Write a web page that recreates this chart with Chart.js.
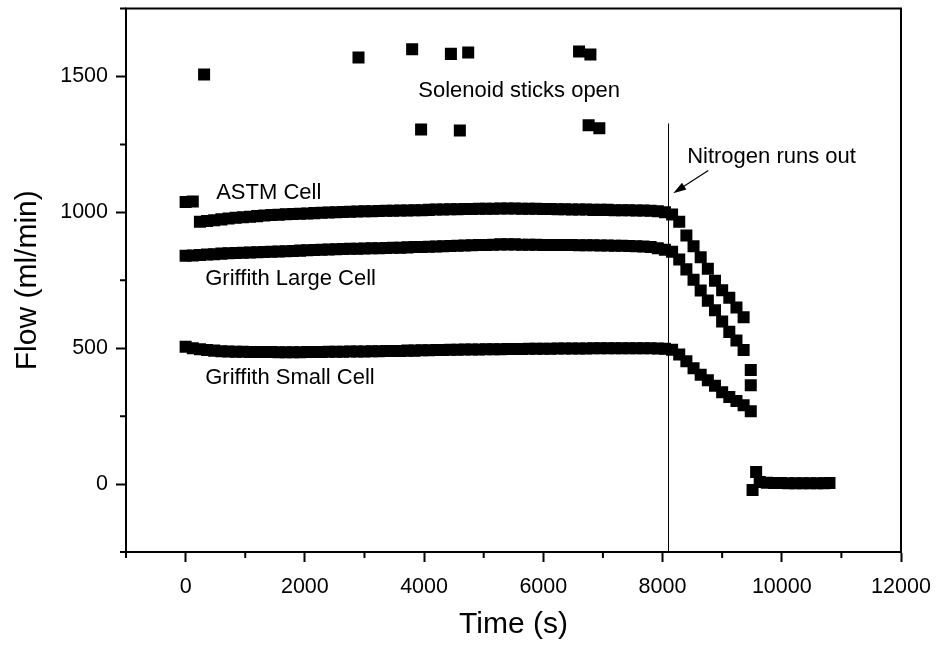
<!DOCTYPE html>
<html>
<head>
<meta charset="utf-8">
<script src="https://cdn.jsdelivr.net/npm/chart.js@4/dist/chart.umd.min.js"></script>
<style>
html,body{margin:0;padding:0;background:#fff;}
#c{display:block;}
</style>
</head>
<body>
<canvas id="c" width="937" height="646"></canvas>
<script>
// ---------------- data ----------------
const times = [0,120,240,360,480,600,720,840,960,1080,1200,1320,1440,1560,1680,1800,1920,2040,2160,2280,2400,2520,2640,2760,2880,3000,3120,3240,3360,3480,3600,3720,3840,3960,4080,4200,4320,4440,4560,4680,4800,4920,5040,5160,5280,5400,5520,5640,5760,5880,6000,6120,6240,6360,6480,6600,6720,6840,6960,7080,7200,7320,7440,7560,7680,7800,7920,8040,8160,8280,8400,8520,8640,8760,8880,9000,9120,9240,9360,9480];

const astmFlow = [1038,1040,
  965,968,971,974,977,980,982,984,986,988,
  990,991,993,994,995,996,997,998,999,1000,
  1001,1002,1003,1004,1004,1005,1006,1006,1007,1007,
  1008,1008,1009,1010,1010,1011,1011,1012,1012,1013,
  1013,1013,1014,1014,1014,1013,1013,1013,1012,1012,
  1011,1011,1010,1010,1010,1009,1009,1009,1008,1008,
  1008,1007,1007,1006,1004,1000,
  992,965,915,875,835,792,748,713,686,650,614,420];

const largeFlow = [840,841,843,845,846,848,849,850,851,852,
  853,854,855,856,857,858,859,860,861,862,
  863,864,865,866,866,867,868,868,869,870,
  870,871,872,872,873,874,875,876,877,878,
  879,880,880,881,882,882,882,881,881,881,
  880,880,880,880,880,879,879,879,878,878,
  877,877,876,875,874,872,868,862,
  855,826,790,752,712,675,640,598,560,528,493,364];

const smallFlow = [505,500,496,493,491,489,488,487,487,486,
  486,486,486,485,485,485,485,486,486,486,
  487,487,487,488,488,488,489,489,490,490,
  490,491,491,492,492,493,493,494,494,495,
  495,495,496,496,496,497,497,497,498,498,
  498,498,499,499,499,499,499,500,500,500,
  500,500,500,500,500,500,499,498,
  494,477,452,426,402,382,362,338,320,306,290,268];

const tailTime = [9510,9570,9630,9750,9870,9990,10110,10230,10350,10470,10590,10710,10800];
const tailFlow = [-22,44,8,5,4,4,3,3,3,3,3,3,4];

const solenoidTime = [310,2900,3800,3950,4450,4600,4740,6600,6760,6790,6940];
const solenoidFlow = [1507,1570,1600,1305,1583,1301,1588,1592,1320,1581,1309];

const xTickValues = [0,2000,4000,6000,8000,10000,12000];
const xMinorValues = [-1000,1000,3000,5000,7000,9000,11000];
const yTickValues = [0,500,1000,1500];
const yMinorValues = [-250,250,750,1250,1750];

const nitrogenTime = 8090;

// annotation texts (positions in data coordinates, kept separate)
const notes = [
  {text:'ASTM Cell', x:513, y:1048},
  {text:'Griffith Large Cell', x:329, y:732},
  {text:'Griffith Small Cell', x:329, y:368},
  {text:'Solenoid sticks open', x:3903, y:1423},
  {text:'Nitrogen runs out', x:8413, y:1180}
];
const arrowFrom = {x:8768, y:1154};
const arrowTo = {x:8180, y:1070};
const lineTopFlow = 1327;

// ---------------- chart ----------------
const FONT = "'Liberation Sans', Arial, Helvetica, sans-serif";
Chart.defaults.color = '#000';
Chart.defaults.font.family = FONT;

function pts(xs, ys){ return xs.map((x,i)=>({x:x, y:ys[i]})); }

const marker = {
  showLine:false, pointStyle:'rect', pointRadius:8.5, pointHoverRadius:8.5,
  backgroundColor:'#000', borderColor:'#000', borderWidth:0
};

const overlay = {
  id:'overlay',
  beforeDatasetsDraw(chart){
    const {ctx, scales:{x,y}, chartArea:a} = chart;
    ctx.save();
    ctx.strokeStyle = '#000';
    ctx.lineWidth = 1;
    const px = Math.round(x.getPixelForValue(nitrogenTime)) + 0.5;
    ctx.beginPath();
    ctx.moveTo(px, a.bottom);
    ctx.lineTo(px, y.getPixelForValue(lineTopFlow));
    ctx.stroke();
    ctx.restore();
  },
  afterDraw(chart){
    const {ctx, scales:{x,y}, chartArea:a} = chart;
    ctx.save();
    // frame
    ctx.strokeStyle = '#000';
    ctx.lineWidth = 2;
    ctx.strokeRect(a.left, a.top, a.right - a.left, a.bottom - a.top);
    // minor ticks
    ctx.lineWidth = 2;
    ctx.beginPath();
    xMinorValues.forEach(v=>{
      const p = x.getPixelForValue(v);
      ctx.moveTo(p, a.bottom); ctx.lineTo(p, a.bottom + 6);
    });
    yMinorValues.forEach(v=>{
      const p = y.getPixelForValue(v);
      ctx.moveTo(a.left, p); ctx.lineTo(a.left - 6, p);
    });
    ctx.stroke();
    // texts
    ctx.fillStyle = '#000';
    ctx.font = '22px ' + FONT;
    ctx.textAlign = 'left';
    ctx.textBaseline = 'alphabetic';
    notes.forEach(n=>{
      ctx.fillText(n.text, x.getPixelForValue(n.x), y.getPixelForValue(n.y));
    });
    // arrow
    const x1 = x.getPixelForValue(arrowFrom.x), y1 = y.getPixelForValue(arrowFrom.y);
    const x2 = x.getPixelForValue(arrowTo.x), y2 = y.getPixelForValue(arrowTo.y);
    const ang = Math.atan2(y2 - y1, x2 - x1);
    const hl = 13, hw = 4;
    ctx.lineWidth = 1.2;
    ctx.beginPath();
    ctx.moveTo(x1, y1);
    ctx.lineTo(x2 - Math.cos(ang)*hl*0.8, y2 - Math.sin(ang)*hl*0.8);
    ctx.stroke();
    ctx.beginPath();
    ctx.moveTo(x2, y2);
    ctx.lineTo(x2 - Math.cos(ang)*hl - Math.sin(ang)*hw, y2 - Math.sin(ang)*hl + Math.cos(ang)*hw);
    ctx.lineTo(x2 - Math.cos(ang)*hl + Math.sin(ang)*hw, y2 - Math.sin(ang)*hl - Math.cos(ang)*hw);
    ctx.closePath();
    ctx.fill();
    ctx.restore();
  }
};

new Chart(document.getElementById('c'), {
  type:'scatter',
  data:{
    datasets:[
      Object.assign({label:'ASTM Cell', data:pts(times, astmFlow)}, marker),
      Object.assign({label:'Griffith Large Cell', data:pts(times, largeFlow)}, marker),
      Object.assign({label:'Griffith Small Cell', data:pts(times, smallFlow)}, marker),
      Object.assign({label:'After nitrogen runs out', data:pts(tailTime, tailFlow)}, marker),
      Object.assign({label:'Solenoid sticks open', data:pts(solenoidTime, solenoidFlow)}, marker)
    ]
  },
  options:{
    responsive:false,
    animation:false,
    devicePixelRatio:1,
    events:[],
    layout:{padding:{left:0, top:8, right:36, bottom:0}},
    plugins:{legend:{display:false}, tooltip:{enabled:false}},
    scales:{
      x:{
        type:'linear', min:-1000, max:12000,
        afterBuildTicks(s){ s.ticks = xTickValues.map(v=>({value:v})); },
        afterFit(s){ s.height = 94; s.paddingLeft = 0; s.paddingRight = 0; },
        border:{display:true, color:'#000', width:2},
        grid:{display:true, drawOnChartArea:false, drawTicks:true, tickLength:10, tickWidth:2, tickColor:'#000', color:'#000'},
        ticks:{font:{size:21.5, family:FONT}, color:'#000', padding:12, maxRotation:0, autoSkip:false,
               callback:(v)=>String(v)},
        title:{display:true, text:'Time (s)', font:{size:30, family:FONT}, color:'#000', padding:{top:4, bottom:3}}
      },
      y:{
        type:'linear', min:-250, max:1750,
        afterBuildTicks(s){ s.ticks = yTickValues.map(v=>({value:v})); },
        afterFit(s){ s.width = 126; s.paddingTop = 0; s.paddingBottom = 0; },
        border:{display:true, color:'#000', width:2},
        grid:{display:true, drawOnChartArea:false, drawTicks:true, tickLength:10, tickWidth:2, tickColor:'#000', color:'#000'},
        ticks:{font:{size:21.5, family:FONT}, color:'#000', padding:8, autoSkip:false,
               callback:(v)=>String(v)},
        title:{display:true, text:'Flow (ml/min)', font:{size:30, family:FONT}, color:'#000', padding:{top:10, bottom:0}}
      }
    }
  },
  plugins:[overlay]
});
</script>
</body>
</html>
